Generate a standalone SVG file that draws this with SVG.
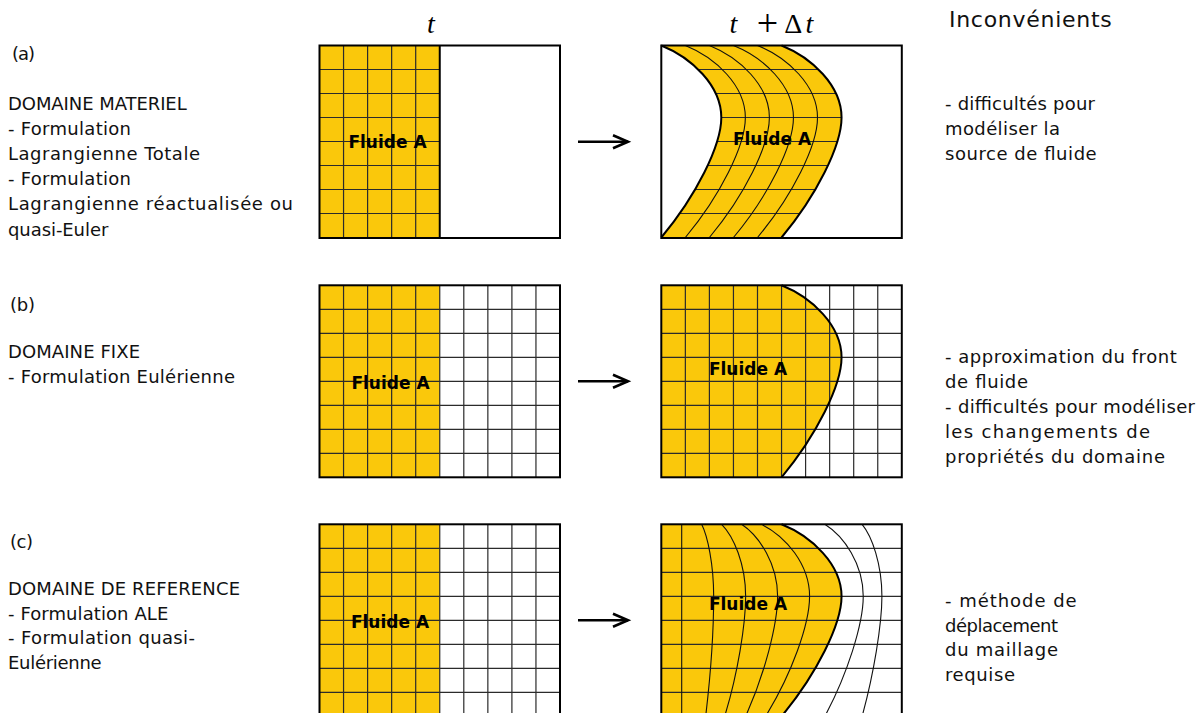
<svg xmlns="http://www.w3.org/2000/svg" xmlns:xlink="http://www.w3.org/1999/xlink" width="1201" height="713" viewBox="0 0 1201 713">
<style>
.bg{fill:#fff}
.frame{fill:none;stroke:#000;stroke-width:2}
.fluid{fill:#FAC80B}
.grid{fill:none;stroke:#2b2b2b;stroke-width:1.2}
.thin{fill:none;stroke:#111;stroke-width:1.1}
.edge{fill:none;stroke:#000;stroke-width:2}
.lbl{font-family:"DejaVu Sans",sans-serif;font-size:17px;font-weight:bold;text-anchor:middle;fill:#000}
.txt{font-family:"DejaVu Sans",sans-serif;font-size:18px;fill:#111}
.hdr{font-family:"DejaVu Sans",sans-serif;font-size:22px;fill:#111}
.math{font-family:"Liberation Serif",serif;font-size:28px;fill:#000;text-anchor:middle}
.plus{font-family:"Liberation Serif",serif;font-size:38px;fill:#000;text-anchor:middle}
.conn{fill:none;stroke:#000;stroke-width:2.6}
</style>
<defs>
<marker id="arr" markerWidth="20" markerHeight="18" refX="16" refY="8" orient="auto" markerUnits="userSpaceOnUse">
<path d="M1,1.5 L16,8 L1,14.5" fill="none" stroke="#000" stroke-width="2.6"/>
</marker>
<path id="acurve" d="M0,0 C30,12 60,40 60,72 C60,100 35,150 0,192"/>
<path id="bshape" d="M0,0 H120.25 C150.25,12 180.25,40 180.25,72 C180.25,100 155.25,150 120.25,192 H0 Z"/>
<clipPath id="aclip"><path d="M0,0 C30,12 60,40 60,72 C60,100 35,150 0,192 L120.25,192 C155.25,150 180.25,100 180.25,72 C180.25,40 150.25,12 120.25,0 Z"/></clipPath>
<path id="hgrid" d="M0,24H240.5M0,48H240.5M0,72H240.5M0,96H240.5M0,120H240.5M0,144H240.5M0,168H240.5"/>
<path id="vgrid" d="M24.05,0V192M48.1,0V192M72.15,0V192M96.2,0V192M120.25,0V192M144.3,0V192M168.35,0V192M192.4,0V192M216.45,0V192"/>
</defs>

<!-- headers -->
<g id="headers">
<text class="math" x="431" y="33" font-style="italic">t</text>
<text class="math" x="733.3" y="33" font-style="italic">t</text>
<text class="plus" x="767.5" y="36">+</text>
<text class="math" x="793.3" y="33.3">Δ</text>
<text class="math" x="809.5" y="33" font-style="italic">t</text>
<text class="hdr" x="949" y="27" textLength="162.7">Inconvénients</text>
</g>

<!-- left descriptions -->
<g id="desc-a">
<text class="txt" x="12" y="60" textLength="23">(a)</text>
<text class="txt" x="8" y="109.5" textLength="178.7">DOMAINE MATERIEL</text>
<text class="txt" x="8" y="134.7" textLength="123">- Formulation</text>
<text class="txt" x="8" y="159.9" textLength="192">Lagrangienne Totale</text>
<text class="txt" x="8" y="185.1" textLength="123">- Formulation</text>
<text class="txt" x="8" y="210.3" textLength="285">Lagrangienne réactualisée ou</text>
<text class="txt" x="8" y="235.5" textLength="100.3">quasi-Euler</text>
</g>
<g id="desc-b">
<text class="txt" x="10" y="311" textLength="25">(b)</text>
<text class="txt" x="8" y="358.3" textLength="132">DOMAINE FIXE</text>
<text class="txt" x="8" y="383.3" textLength="227">- Formulation Eulérienne</text>
</g>
<g id="desc-c">
<text class="txt" x="10" y="548" textLength="23">(c)</text>
<text class="txt" x="8" y="595" textLength="232">DOMAINE DE REFERENCE</text>
<text class="txt" x="8" y="619.5" textLength="160.3">- Formulation ALE</text>
<text class="txt" x="8" y="644" textLength="187">- Formulation quasi-</text>
<text class="txt" x="8" y="668.5" textLength="93.7">Eulérienne</text>
</g>

<!-- right: drawbacks -->
<g id="cons-a">
<text class="txt" x="945" y="110" textLength="150">- difficultés pour</text>
<text class="txt" x="945" y="135" textLength="115">modéliser la</text>
<text class="txt" x="945" y="160" textLength="151.7">source de fluide</text>
</g>
<g id="cons-b">
<text class="txt" x="945" y="362.5" textLength="231.7">- approximation du front</text>
<text class="txt" x="945" y="387.5" textLength="83">de fluide</text>
<text class="txt" x="945" y="412.5" textLength="250">- difficultés pour modéliser</text>
<text class="txt" x="945" y="437.5" textLength="205">les changements de</text>
<text class="txt" x="945" y="462.5" textLength="220">propriétés du domaine</text>
</g>
<g id="cons-c">
<text class="txt" x="945" y="607" textLength="131.7">- méthode de</text>
<text class="txt" x="945" y="631.5" textLength="113">déplacement</text>
<text class="txt" x="945" y="656" textLength="113">du maillage</text>
<text class="txt" x="945" y="680.5" textLength="70">requise</text>
</g>

<!-- (a) at t -->
<g id="a-t" transform="translate(319.5,45.5)">
<rect class="bg" x="0" y="0" width="240.5" height="192.5"/>
<rect class="fluid" x="0" y="0" width="120.25" height="192.5"/>
<path class="grid" d="M24.05,0V192.5M48.1,0V192.5M72.15,0V192.5M96.2,0V192.5M0,24H120.25M0,48H120.25M0,72H120.25M0,96H120.25M0,120H120.25M0,144H120.25M0,168H120.25"/>
<path class="edge" d="M120.25,0V192.5"/>
<rect class="frame" x="0" y="0" width="240.5" height="192.5"/>
<text class="lbl" x="68" y="102.8">Fluide A</text>
</g>

<!-- (a) at t+dt -->
<g id="a-dt" transform="translate(661.3,45.5)">
<rect class="bg" x="0" y="0" width="240.5" height="192.5"/>
<path class="fluid" d="M0,0 C30,12 60,40 60,72 C60,100 35,150 0,192.5 L120.25,192.5 C155.25,150 180.25,100 180.25,72 C180.25,40 150.25,12 120.25,0 Z"/>
<g clip-path="url(#aclip)"><use href="#hgrid" class="grid"/></g>
<use href="#acurve" class="thin" x="24.05"/>
<use href="#acurve" class="thin" x="48.1"/>
<use href="#acurve" class="thin" x="72.15"/>
<use href="#acurve" class="thin" x="96.2"/>
<use href="#acurve" class="edge"/>
<use href="#acurve" class="edge" x="120.25"/>
<rect class="frame" x="0" y="0" width="240.5" height="192.5"/>
<text class="lbl" x="110.7" y="99.5">Fluide A</text>
</g>

<!-- (b) at t -->
<g id="b-t" transform="translate(319.5,285.3)">
<rect class="bg" x="0" y="0" width="240.5" height="192"/>
<rect class="fluid" x="0" y="0" width="120.25" height="192"/>
<use href="#vgrid" class="grid"/>
<use href="#hgrid" class="grid"/>
<rect class="frame" x="0" y="0" width="240.5" height="192"/>
<text class="lbl" x="71" y="104">Fluide A</text>
</g>

<!-- (b) at t+dt -->
<g id="b-dt" transform="translate(661.3,285.3)">
<rect class="bg" x="0" y="0" width="240.5" height="192"/>
<use href="#bshape" class="fluid"/>
<use href="#vgrid" class="grid"/>
<use href="#hgrid" class="grid"/>
<path class="edge" d="M120.25,0 C150.25,12 180.25,40 180.25,72 C180.25,100 155.25,150 120.25,192"/>
<rect class="frame" x="0" y="0" width="240.5" height="192"/>
<text class="lbl" x="86.7" y="89.7">Fluide A</text>
</g>

<!-- (c) at t -->
<g id="c-t" transform="translate(319.5,524.3)">
<rect class="bg" x="0" y="0" width="240.5" height="192"/>
<rect class="fluid" x="0" y="0" width="120.25" height="192"/>
<use href="#vgrid" class="grid"/>
<use href="#hgrid" class="grid"/>
<rect class="frame" x="0" y="0" width="240.5" height="192"/>
<text class="lbl" x="70.5" y="103.4">Fluide A</text>
</g>

<!-- (c) at t+dt -->
<g id="c-dt" transform="translate(661.3,524.3)">
<rect class="bg" x="0" y="0" width="240.5" height="192"/>
<use href="#bshape" class="fluid"/>
<use href="#hgrid" class="grid"/>
<path class="thin" d="M20.4,0V192"/>
<path class="thin" d="M40.37,0 C46.37,12 52.37,40 52.37,72 C52.37,100 49.37,150 44.37,192"/>
<path class="thin" d="M60.34,0 C72.34,12 84.34,40 84.34,72 C84.34,100 76.34,150 63.34,192"/>
<path class="thin" d="M80.31,0 C98.31,12 116.31,40 116.31,72 C116.31,100 103.31,150 84.31,192"/>
<path class="thin" d="M100.28,0 C124.28,12 148.28,40 148.28,72 C148.28,100 130.28,150 104.28,192"/>
<path class="thin" d="M163.54,0 C182.74,12 201.94,40 201.94,72 C201.94,100 185.94,150 163.54,192"/>
<path class="thin" d="M200.82,0 C210.72,12 220.62,40 220.62,72 C220.62,100 212.37,150 200.82,192"/>
<path class="edge" d="M120.25,0 C150.25,12 180.25,40 180.25,72 C180.25,100 155.25,150 120.25,192"/>
<rect class="frame" x="0" y="0" width="240.5" height="192"/>
<text class="lbl" x="86.7" y="85.7">Fluide A</text>
</g>

<!-- connectors -->
<g id="connectors">
<path class="conn" d="M578,141.7 H628" marker-end="url(#arr)"/>
<path class="conn" d="M578,381.3 H628" marker-end="url(#arr)"/>
<path class="conn" d="M578,620.3 H628" marker-end="url(#arr)"/>
</g>
</svg>
